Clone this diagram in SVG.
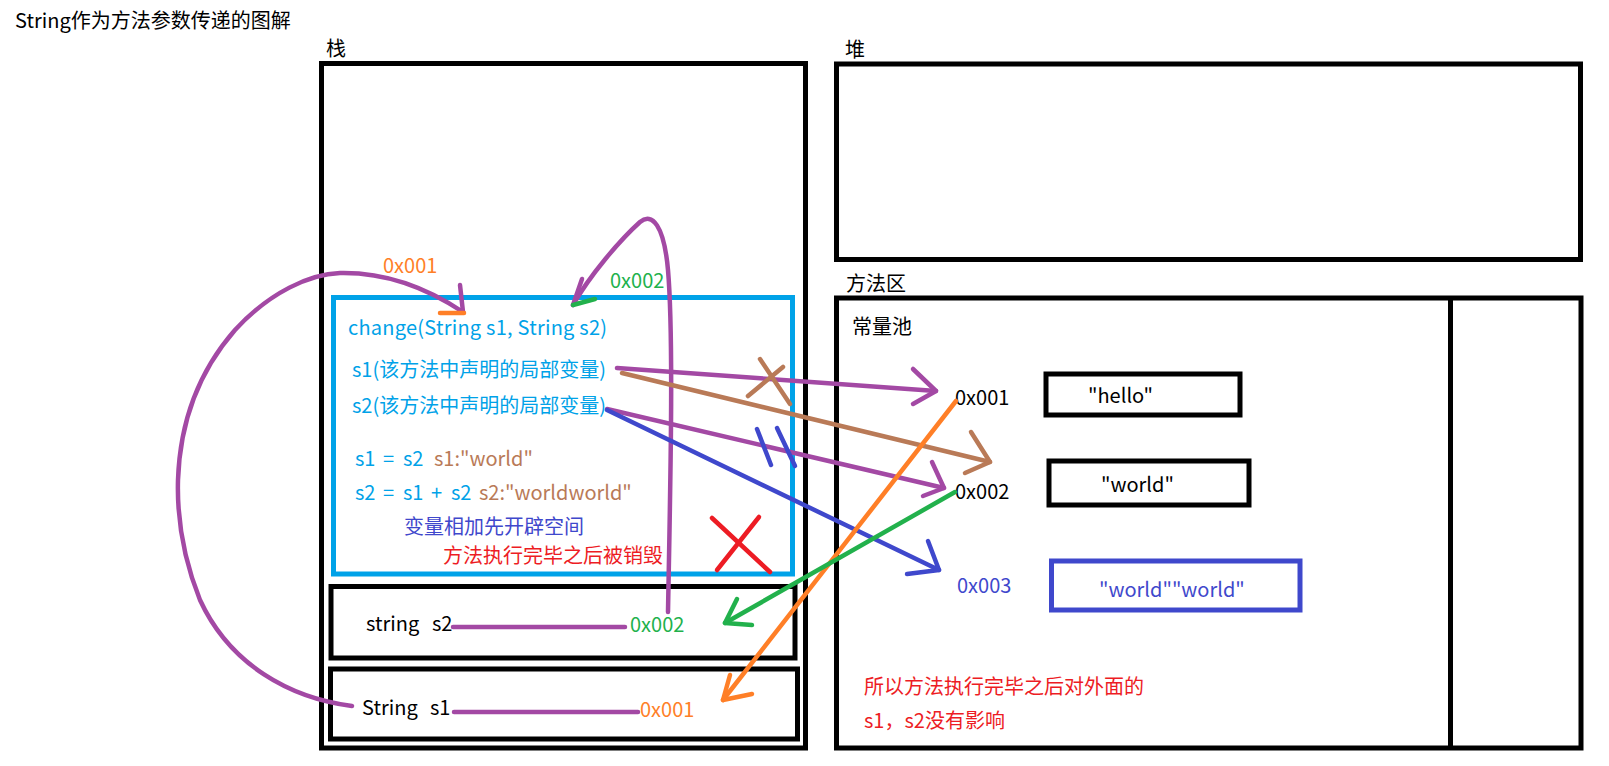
<svg xmlns="http://www.w3.org/2000/svg" width="1609" height="766" viewBox="0 0 1609 766">
<defs>
<style>
text{font-family:"Noto Sans CJK SC","Noto Sans",sans-serif;font-size:20px;fill:#000}
.box{fill:none;stroke:#000;stroke-width:5}
.cy{fill:#00A2E8}.br{fill:#B97A57}.bl{fill:#3F48CC}.rd{fill:#ED1C24}.gr{fill:#22B14C}.or{fill:#FF7F27}
.c{fill:none;stroke-width:4.5;stroke-linecap:round;stroke-linejoin:round}
.p{stroke:#A349A4}.b{stroke:#B97A57}.u{stroke:#3F48CC}.o{stroke:#FF7F27}.g{stroke:#22B14C}.r{stroke:#ED1C24}
</style>
</defs>
<rect width="1609" height="766" fill="#fff"/>
<text x="15" y="28">String作为方法参数传递的图解</text>

<g id="stack">
<text x="326" y="56">栈</text>
<rect class="box" x="321.5" y="63.5" width="484" height="684.5"/>
</g>

<g id="heap">
<text x="845" y="57">堆</text>
<rect class="box" x="836.5" y="64" width="744" height="195.5"/>
</g>

<g id="method-area">
<text x="846" y="291">方法区</text>
<rect class="box" x="836.5" y="298" width="744.5" height="450"/>
<line class="box" x1="1450.5" y1="298" x2="1450.5" y2="748"/>
<text x="852" y="334">常量池</text>
</g>

<g id="change-frame">
<rect x="333.5" y="297.5" width="459" height="276.5" fill="none" stroke="#00A2E8" stroke-width="5"/>
<text class="cy" x="348" y="335" textLength="259">change(String s1, String s2)</text>
<text class="cy" x="352" y="377">s1(该方法中声明的局部变量)</text>
<text class="cy" x="352" y="413">s2(该方法中声明的局部变量)</text>
<text class="cy" y="466"><tspan x="355">s1</tspan><tspan x="383">=</tspan><tspan x="403">s2</tspan></text>
<text class="br" x="434" y="466">s1:"world"</text>
<text class="cy" y="500"><tspan x="355">s2</tspan><tspan x="383">=</tspan><tspan x="403">s1</tspan><tspan x="431">+</tspan><tspan x="451">s2</tspan></text>
<text class="br" x="479" y="500">s2:"worldworld"</text>
<text class="bl" x="404" y="534">变量相加先开辟空间</text>
<text class="rd" x="443" y="563">方法执行完毕之后被销毁</text>
<line class="c r" x1="712" y1="518" x2="770" y2="572"/>
<line class="c r" x1="759" y1="517" x2="717" y2="570"/>
</g>

<g id="var-s2">
<rect class="box" x="331" y="586.5" width="464" height="71.5"/>
<text x="366" y="631">string</text>
<text x="432" y="631">s2</text>
<text class="gr" x="630" y="632">0x002</text>
</g>

<g id="var-s1">
<rect class="box" x="330.5" y="669" width="467" height="70"/>
<text x="362" y="715">String</text>
<text x="430" y="715">s1</text>
<text class="or" x="640" y="717">0x001</text>
</g>

<g id="const-hello">
<text x="955" y="405">0x001</text>
<rect class="box" x="1046" y="374" width="194" height="41"/>
<text x="1088" y="403">"hello"</text>
</g>

<g id="const-world">
<text x="955" y="499">0x002</text>
<rect class="box" x="1049" y="461" width="200" height="44"/>
<text x="1101" y="492">"world"</text>
</g>

<g id="const-worldworld">
<text class="bl" x="957" y="593">0x003</text>
<rect x="1051.5" y="561" width="248.5" height="49" fill="none" stroke="#3F48CC" stroke-width="5"/>
<text class="bl" x="1099" y="597">"world""world"</text>
</g>

<g id="note">
<text class="rd" x="864" y="694">所以方法执行完毕之后对外面的</text>
<text class="rd" x="864" y="728">s1，s2没有影响</text>
</g>

<g id="labels">
<text class="or" x="383" y="273">0x001</text>
<text class="gr" x="610" y="288">0x002</text>
</g>

<g id="connectors">
<line class="c p" x1="453" y1="627" x2="625" y2="627"/>
<line class="c p" x1="454" y1="712" x2="638" y2="712"/>
<path class="c p" d="M352,706 C290,698 230,665 200,600 C182,555 177,515 178,480 C180,420 200,370 235,330 C270,292 310,274 340,273 C390,272 430,290 463,312"/>
<path class="c p" d="M460,285 L463,312"/>
<line class="c o" x1="440" y1="313" x2="464" y2="313"/>
<path class="c p" d="M668,612 C670,500 674,340 668,270 C664,225 652,212 640,222 C620,240 590,275 573,305"/>
<path class="c p" d="M582,279 L573,305"/>
<line class="c g" x1="573" y1="305" x2="595" y2="299"/>
<line class="c p" x1="617" y1="368" x2="936" y2="391"/>
<path class="c p" d="M913,369 L936,391 L913,404"/>
<line class="c b" x1="622" y1="373" x2="990" y2="462"/>
<path class="c b" d="M971,432 L990,462 L965,473"/>
<line class="c b" x1="748" y1="396" x2="783" y2="367"/>
<line class="c b" x1="760" y1="359" x2="790" y2="404"/>
<line class="c p" x1="607" y1="409" x2="944" y2="488"/>
<path class="c p" d="M932,462 L944,488 L923,496"/>
<line class="c u" x1="607" y1="410" x2="939" y2="570"/>
<path class="c u" d="M928,541 L939,570 L907,574"/>
<line class="c u" x1="757" y1="429" x2="771" y2="465"/>
<line class="c u" x1="777" y1="428" x2="795" y2="466"/>
<line class="c o" x1="956" y1="401" x2="723" y2="700"/>
<path class="c o" d="M730,675 L723,700 L752,694"/>
<line class="c g" x1="955" y1="492" x2="725" y2="623"/>
<path class="c g" d="M737,599 L725,623 L752,625"/>
</g>
</svg>
